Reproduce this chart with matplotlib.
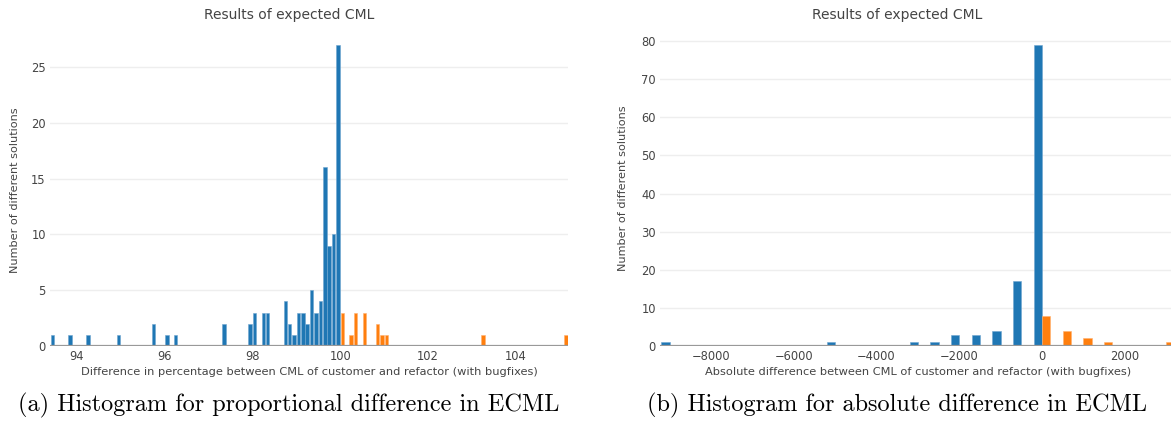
import matplotlib
matplotlib.use('Agg')
import matplotlib.pyplot as plt

# left chart: percentage difference, bin width 0.1
pct_blue_x = [93.45, 93.85, 94.25, 94.95, 95.75, 96.05, 96.25, 97.35, 97.95, 98.05,
              98.25, 98.35, 98.75, 98.85, 98.95, 99.05, 99.15, 99.25, 99.35, 99.45,
              99.55, 99.65, 99.75, 99.85, 99.95]
pct_blue_n = [1, 1, 1, 1, 2, 1, 1, 2, 2, 3,
              3, 3, 4, 2, 1, 3, 3, 2, 5, 3,
              4, 16, 9, 10, 27]
pct_orange_x = [100.05, 100.25, 100.35, 100.55, 100.85, 100.95, 101.05, 103.25, 105.15]
pct_orange_n = [3, 1, 3, 3, 2, 1, 1, 1, 1]

# right chart: absolute difference, bin width 500
abs_blue_x = [-9000, -5000, -3000, -2500, -2000, -1500, -1000, -500, 0]
abs_blue_n = [1, 1, 1, 1, 3, 3, 4, 17, 79]
abs_orange_x = [0, 500, 1000, 1500, 3000]
abs_orange_n = [8, 4, 2, 1, 1]

BLUE = '#1f77b4'
ORANGE = '#ff7f0e'
TXT = '#444444'

W, H = 1171, 424
fig = plt.figure(figsize=(W / 100, H / 100), dpi=100)
plt.rcParams['font.family'] = 'DejaVu Sans'


def px_axes(x0, x1, y0, y1):
    return fig.add_axes([x0 / W, 1 - y1 / H, (x1 - x0) / W, (y1 - y0) / H])


def style(ax, yticks):
    for s in ax.spines.values():
        s.set_visible(False)
    ax.set_yticks(yticks)
    ax.grid(axis='y', color='#eeeeee', linewidth=1)
    ax.set_axisbelow(True)
    ax.axhline(0, color='#999999', linewidth=1.6, zorder=3)
    ax.tick_params(length=0, labelsize=8.3, labelcolor=TXT, pad=3)


ax1 = px_axes(50, 568, 29, 346)
ax1.bar(pct_blue_x, pct_blue_n, width=0.08, color=BLUE, edgecolor='#6fa6d0', linewidth=0.4)
ax1.bar(pct_orange_x, pct_orange_n, width=0.08, color=ORANGE, edgecolor='#ffb070', linewidth=0.4)
ax1.set_xlim(93.39, 105.19)
ax1.set_ylim(0, 28.4)
ax1.set_xticks([94, 96, 98, 100, 102, 104])
style(ax1, [0, 5, 10, 15, 20, 25])

ax2 = px_axes(660, 1171, 29, 346)
ax2.bar([v - 100 for v in abs_blue_x], abs_blue_n, width=200, color=BLUE,
        edgecolor='#6fa6d0', linewidth=0.4)
ax2.bar([v + 100 for v in abs_orange_x], abs_orange_n, width=200, color=ORANGE,
        edgecolor='#ffb070', linewidth=0.4)
ax2.set_xlim(-9230, 3115)
ax2.set_ylim(0, 83.2)
ax2.set_xticks([-8000, -6000, -4000, -2000, 0, 2000])
ax2.set_xticklabels(['\u22128000', '\u22126000', '\u22124000', '\u22122000', '0', '2000'])
style(ax2, [0, 10, 20, 30, 40, 50, 60, 70, 80])


def ftext(x, y, s, **kw):
    fig.text(x / W, 1 - y / H, s, ha='center', va='center', color=TXT, **kw)


ftext(289, 15, 'Results of expected CML', fontsize=10)
ftext(897, 15, 'Results of expected CML', fontsize=10)
ftext(15, 190, 'Number of different solutions', fontsize=8.1, rotation=90)
ftext(623, 188, 'Number of different solutions', fontsize=8.1, rotation=90)
ftext(309, 372, 'Difference in percentage between CML of customer and refactor (with bugfixes)', fontsize=8.2)
ftext(918, 372, 'Absolute difference between CML of customer and refactor (with bugfixes)', fontsize=8.2)

fig.text(289 / W, 1 - 405 / H, '(a) Histogram for proportional difference in ECML',
         ha='center', va='center', family='cmr10', fontsize=17.5, color='black')
fig.text(897 / W, 1 - 405 / H, '(b) Histogram for absolute difference in ECML',
         ha='center', va='center', family='cmr10', fontsize=17.5, color='black')

fig.savefig('out.png', dpi=100)
